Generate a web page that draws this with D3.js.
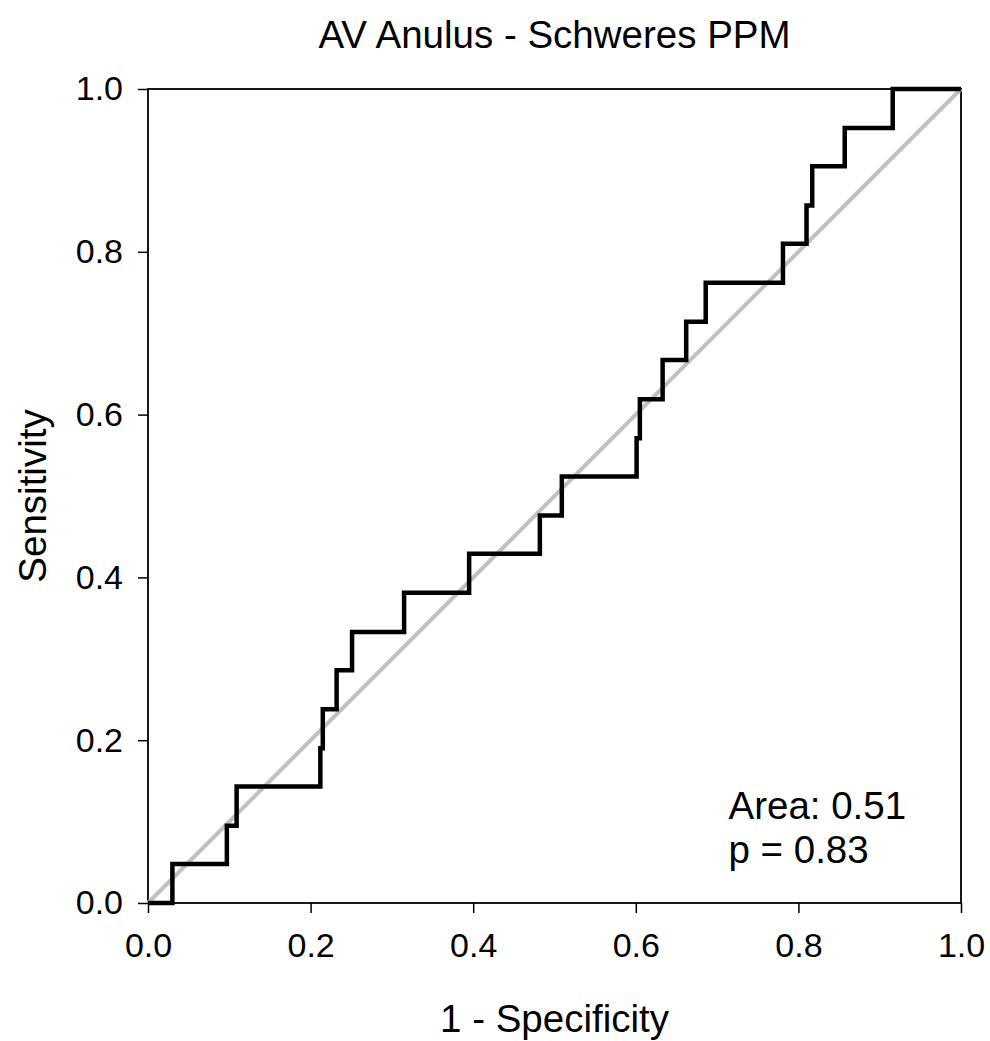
<!DOCTYPE html>
<html lang="en">
<head>
    <meta charset="UTF-8">
    <title>AV Anulus - Schweres PPM</title>
    <style>
        body { margin: 0; background: #fff; }
        text { font-family: "Liberation Sans", Arial, Helvetica, sans-serif; fill: #000; }
    </style>
</head>
<body>
    <div id="chart"></div>
    <script src="https://d3js.org/d3.v7.min.js"></script>
    <script type="text/javascript">
// ROC curve corner points (1 - specificity, sensitivity)
const fpr = [0, 0.030, 0.097, 0.109, 0.212, 0.215, 0.232, 0.251, 0.315, 0.395, 0.482,
             0.509, 0.601, 0.605, 0.633, 0.662, 0.686, 0.781, 0.810, 0.817, 0.857, 0.916, 1.0];
const tpr = [0, 0.048, 0.095, 0.143, 0.190, 0.238, 0.286, 0.333, 0.381, 0.429, 0.476,
             0.524, 0.571, 0.619, 0.667, 0.714, 0.762, 0.810, 0.857, 0.905, 0.952, 1.0, 1.0];
const tickValues = [0, 0.2, 0.4, 0.6, 0.8, 1.0];
const annotations = ["Area: 0.51", "p = 0.83"];

const margin = { top: 89, right: 29, bottom: 138, left: 148 };
const width = 990 - margin.left - margin.right;
const height = 1041 - margin.top - margin.bottom;

const svg = d3.select("#chart")
    .append("svg")
    .attr("width", 990)
    .attr("height", 1041);

const g = svg.append("g")
    .attr("transform", `translate(${margin.left},${margin.top})`);

const x = d3.scaleLinear().domain([0, 1]).range([0, width]);
const y = d3.scaleLinear().domain([0, 1]).range([height, 0]);

// axes
const xAxis = g.append("g")
    .attr("transform", `translate(0,${height})`)
    .call(d3.axisBottom(x).tickValues(tickValues).tickFormat(d3.format(".1f")).tickSize(10).tickPadding(20));
const yAxis = g.append("g")
    .call(d3.axisLeft(y).tickValues(tickValues).tickFormat(d3.format(".1f")).tickSize(10).tickPadding(15));

[xAxis, yAxis].forEach(a => {
    a.select(".domain").remove();
    a.selectAll("line").attr("stroke", "#000").attr("stroke-width", 1.5);
    a.selectAll("text").style("font-size", "34px").attr("fill", "#000");
});
xAxis.selectAll("text").attr("dy", "0.71em");

// frame
g.append("rect")
    .attr("x", 0).attr("y", 0)
    .attr("width", width).attr("height", height)
    .attr("fill", "none")
    .attr("stroke", "#000")
    .attr("stroke-width", 1.8);

// reference diagonal
g.append("line")
    .attr("x1", x(0)).attr("y1", y(0))
    .attr("x2", x(1)).attr("y2", y(1))
    .attr("stroke", "#c0c0c0")
    .attr("stroke-width", 4);

// ROC step curve
const pts = fpr.map((v, i) => [v, tpr[i]]);
const line = d3.line()
    .x(d => x(d[0]))
    .y(d => y(d[1]))
    .curve(d3.curveStepAfter);

g.append("path")
    .datum(pts)
    .attr("d", line)
    .attr("fill", "none")
    .attr("stroke", "#000")
    .attr("stroke-width", 4.5)
    .attr("stroke-linejoin", "miter");

// annotation
g.selectAll(".anno")
    .data(annotations)
    .enter()
    .append("text")
    .attr("class", "anno")
    .attr("x", x(0.714))
    .attr("y", (d, i) => 730 + i * 44)
    .style("font-size", "38.5px")
    .text(d => d);

// titles
svg.append("text")
    .attr("x", margin.left + width / 2)
    .attr("y", 48)
    .attr("text-anchor", "middle")
    .style("font-size", "38.5px")
    .text("AV Anulus - Schweres PPM");

svg.append("text")
    .attr("x", margin.left + width / 2)
    .attr("y", 1032)
    .attr("text-anchor", "middle")
    .style("font-size", "38.5px")
    .text("1 - Specificity");

svg.append("text")
    .attr("transform", `translate(46,${margin.top + height / 2}) rotate(-90)`)
    .attr("text-anchor", "middle")
    .style("font-size", "38.5px")
    .text("Sensitivity");
    </script>
</body>
</html>
